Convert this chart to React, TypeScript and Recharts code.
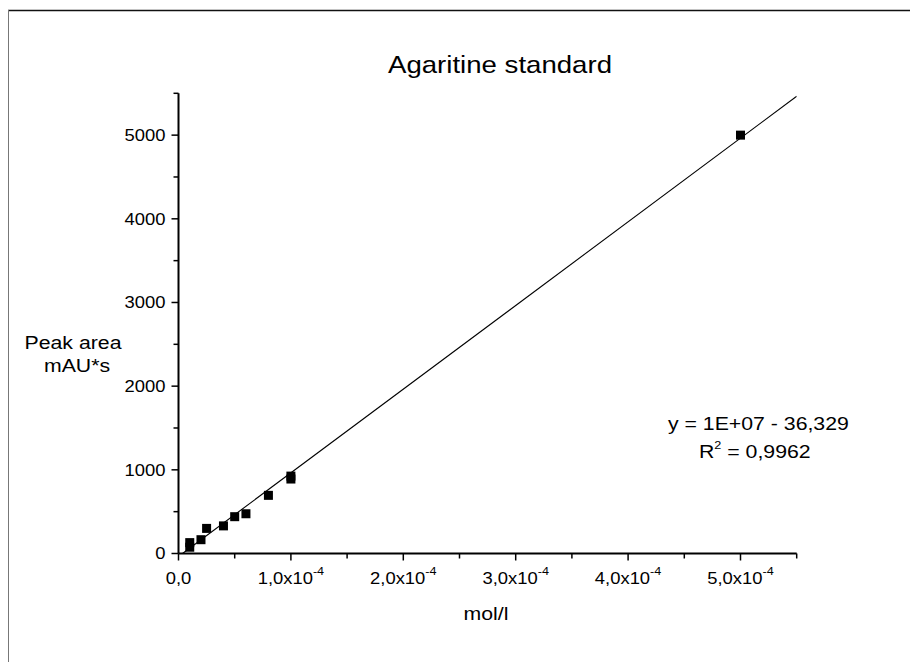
import React from 'react';
import { ScatterChart, Scatter, XAxis, YAxis } from 'recharts';

const W = 918;
const H = 662;

// measured data: concentration (mol/l) vs peak area (mAU*s)
const concentration = [1e-5, 1e-5, 2e-5, 2.5e-5, 4e-5, 5e-5, 6e-5, 8e-5, 1e-4, 1e-4, 5e-4];
const peakArea = [130, 75, 165, 300, 330, 440, 475, 695, 890, 925, 5000];

// linear fit endpoints (y = 1E+07 x - 36,329)
const fitConc = [3.6e-6, 5.5e-4];
const fitArea = [0, 5464];

const xMajorTicks = [0, 1e-4, 2e-4, 3e-4, 4e-4, 5e-4];
const xMinorTicks = [5e-5, 1.5e-4, 2.5e-4, 3.5e-4, 4.5e-4, 5.5e-4];
const xTickMantissa = ['0,0', '1,0x10', '2,0x10', '3,0x10', '4,0x10', '5,0x10'];
const xTickExponent = ['', '-4', '-4', '-4', '-4', '-4'];

const yMajorTicks = [0, 1000, 2000, 3000, 4000, 5000];
const yMinorTicks = [500, 1500, 2500, 3500, 4500, 5500];

const titleText = 'Agaritine standard';
const yLabelLines = ['Peak area', 'mAU*s'];
const xLabelText = 'mol/l';
const equationText = 'y = 1E+07 - 36,329';
const r2Label = 'R';
const r2Value = ' = 0,9962';

const points = concentration.map((c, i) => ({ x: c, y: peakArea[i] }));
const fitPoints = fitConc.map((c, i) => ({ x: c, y: fitArea[i] }));
const xTicks = [...xMajorTicks, ...xMinorTicks].sort((a, b) => a - b);
const yTicks = [...yMajorTicks, ...yMinorTicks].sort((a, b) => a - b);

const FONT = "'Liberation Sans', Arial, Helvetica, sans-serif";
const SX = 1.15;
const Y_AXIS_W = 60;
const X_AXIS_H = 40;

function T(props: any) {
  const { x, y, size, anchor = 'start', children } = props;
  return (
    <text
      transform={`translate(${x},${y}) scale(${SX},1)`}
      fontFamily={FONT}
      fontSize={size}
      textAnchor={anchor}
      fill="#000"
    >
      {children}
    </text>
  );
}

const near = (a: number, b: number) => Math.abs(a - b) < 1e-12;

const XTick = (props: any) => {
  const { x, y, payload } = props;
  const v = payload.value;
  const idx = xMajorTicks.findIndex((t) => near(t, v));
  const major = idx >= 0;
  const len = major ? 7 : 5;
  return (
    <g>
      <line x1={x} x2={x} y1={y} y2={y + len} stroke="#000" strokeWidth={1.5} />
      {major && (
        <T x={x} y={y + 30} size={16} anchor="middle">
          {xTickMantissa[idx]}
          {xTickExponent[idx] && (
            <tspan fontSize={11} dy={-9}>
              {xTickExponent[idx]}
            </tspan>
          )}
        </T>
      )}
    </g>
  );
};

const YTick = (props: any) => {
  const { x, y, payload } = props;
  const v = payload.value;
  const major = yMajorTicks.includes(v);
  const len = major ? 7 : 5;
  return (
    <g>
      <line x1={x - len} x2={x} y1={y} y2={y} stroke="#000" strokeWidth={1.5} />
      {major && (
        <T x={x - len - 6} y={y + 5.8} size={16} anchor="end">
          {String(v)}
        </T>
      )}
    </g>
  );
};

const Square = (props: any) => {
  const { cx, cy } = props;
  return <rect x={cx - 4.5} y={cy - 4.5} width={9} height={9} fill="#000" />;
};

const NoShape = () => <g />;

export default function App() {
  return (
    <div style={{ position: 'relative', width: W, height: H, margin: '-8px 0 0 -8px', background: '#fff' }}>
      <ScatterChart
        width={W}
        height={H}
        margin={{ top: 93.3, right: 121.3, bottom: 108.5 - X_AXIS_H, left: 178.5 - Y_AXIS_W }}
      >
        <XAxis
          type="number"
          dataKey="x"
          domain={[0, 5.5e-4]}
          ticks={xTicks}
          interval={0}
          height={X_AXIS_H}
          tickSize={0}
          tickMargin={0}
          tickLine={false}
          tick={<XTick />}
          axisLine={{ stroke: '#000', strokeWidth: 2 }}
          allowDataOverflow
        />
        <YAxis
          type="number"
          dataKey="y"
          domain={[0, 5500]}
          ticks={yTicks}
          interval={0}
          width={Y_AXIS_W}
          tickSize={0}
          tickMargin={0}
          tickLine={false}
          tick={<YTick />}
          axisLine={{ stroke: '#000', strokeWidth: 2 }}
          allowDataOverflow
        />
        <Scatter
          data={fitPoints}
          line={{ stroke: '#000', strokeWidth: 1.1 }}
          shape={NoShape}
          isAnimationActive={false}
        />
        <Scatter data={points} shape={Square} isAnimationActive={false} />
      </ScatterChart>
      <svg
        width={W}
        height={H}
        style={{ position: 'absolute', left: 0, top: 0, pointerEvents: 'none' }}
      >
        <line x1={8} x2={W} y1={10.5} y2={10.5} stroke="#111" strokeWidth={1.4} />
        <line x1={8.5} x2={8.5} y1={10} y2={H} stroke="#777" strokeWidth={1} />
        <T x={500} y={73} size={24} anchor="middle">{titleText}</T>
        <T x={73} y={349} size={18.5} anchor="middle">{yLabelLines[0]}</T>
        <T x={77} y={372} size={18.5} anchor="middle">{yLabelLines[1]}</T>
        <T x={486} y={620} size={18.5} anchor="middle">{xLabelText}</T>
        <T x={668} y={430} size={18.5}>{equationText}</T>
        <T x={699} y={458} size={18.5}>
          {r2Label}
          <tspan fontSize={11} dy={-9}>2</tspan>
          <tspan dy={9}>{r2Value}</tspan>
        </T>
      </svg>
    </div>
  );
}
